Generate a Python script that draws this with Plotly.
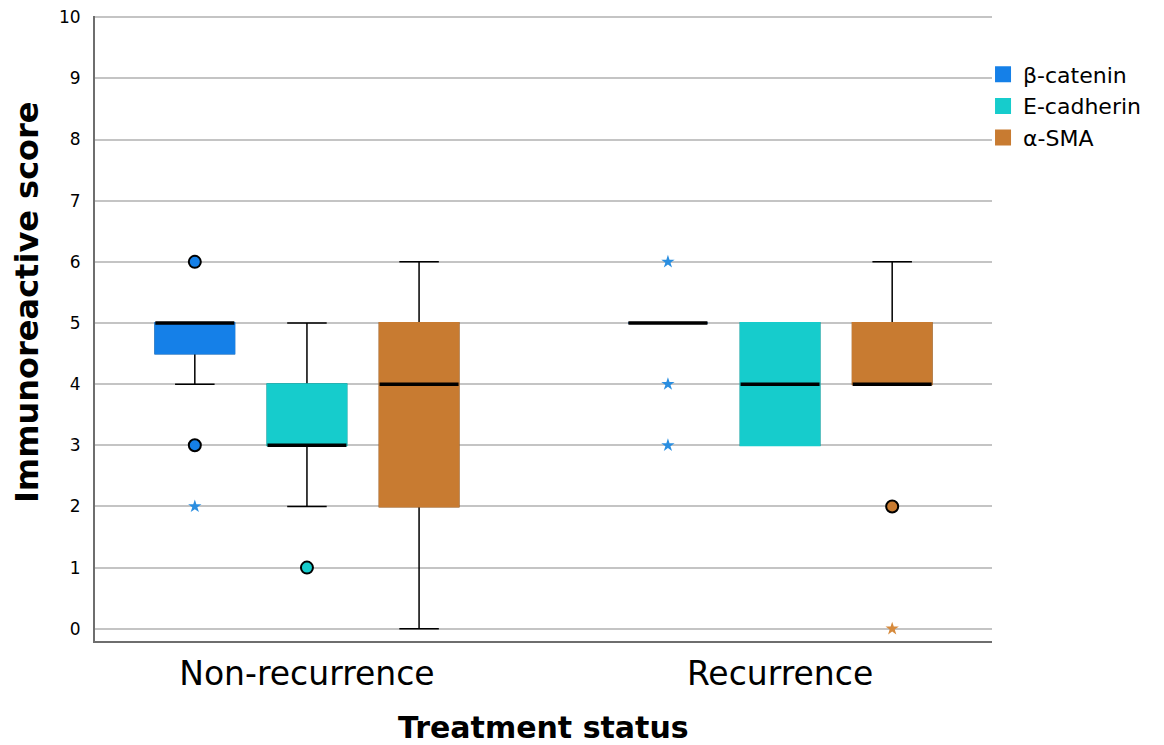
import plotly.graph_objects as go

# ---------------- data ----------------
groups = ["Non-recurrence", "Recurrence"]
series = ["β-catenin", "E-cadherin", "α-SMA"]
colors = ["#1580e8", "#16cccc", "#c87b31"]
star_colors = ["#2a8ee0", "#2a8ee0", "#d68a3c"]

# box statistics per series, per group (Non-recurrence, Recurrence)
q1 = {"β-catenin": [4.5, 5], "E-cadherin": [3, 3], "α-SMA": [2, 4]}
median = {"β-catenin": [5, 5], "E-cadherin": [3, 4], "α-SMA": [4, 4]}
q3 = {"β-catenin": [5, 5], "E-cadherin": [4, 5], "α-SMA": [5, 5]}
lowerfence = {"β-catenin": [4, 5], "E-cadherin": [2, 3], "α-SMA": [0, 4]}
upperfence = {"β-catenin": [5, 5], "E-cadherin": [5, 5], "α-SMA": [6, 6]}

# outliers (circles) and extremes (stars): lists of (group index, value)
outliers = {"β-catenin": [(0, 6), (0, 3)], "E-cadherin": [(0, 1)], "α-SMA": [(1, 2)]}
extremes = {"β-catenin": [(0, 2), (1, 6), (1, 4), (1, 3)], "E-cadherin": [], "α-SMA": [(1, 0)]}

y_ticks = list(range(0, 11))

# ---------------- layout params ----------------
offsets = [-0.237, 0.0, 0.237]
box_w = 0.167

fig = go.Figure()

for si, s in enumerate(series):
    col = colors[si]
    xs = [gi + offsets[si] for gi in range(len(groups))]
    # layer 1: whiskers (black) + box
    fig.add_trace(go.Box(
        x=xs, q1=q1[s], median=median[s], q3=q3[s],
        lowerfence=lowerfence[s], upperfence=upperfence[s],
        width=box_w, whiskerwidth=0.5, boxpoints=False,
        fillcolor=col, line=dict(color="black", width=1.5),
        showlegend=False, hoverinfo="skip"))
    # layer 2: cover the box outline with the fill colour
    fig.add_trace(go.Box(
        x=xs, q1=q1[s], median=q1[s], q3=q3[s],
        lowerfence=q1[s], upperfence=q3[s],
        width=box_w, whiskerwidth=0, boxpoints=False,
        fillcolor=col, line=dict(color=col, width=2),
        showlegend=False, hoverinfo="skip"))
    # layer 3: thick black median line
    fig.add_trace(go.Box(
        x=xs, q1=median[s], median=median[s], q3=median[s],
        lowerfence=median[s], upperfence=median[s],
        width=box_w, whiskerwidth=0, boxpoints=False,
        fillcolor="black", line=dict(color="black", width=3.5),
        showlegend=False, hoverinfo="skip"))

for si, s in enumerate(series):
    if outliers[s]:
        fig.add_trace(go.Scatter(
            x=[g + offsets[si] for g, v in outliers[s]],
            y=[v for g, v in outliers[s]],
            mode="markers", showlegend=False, hoverinfo="skip",
            marker=dict(symbol="circle", size=12, color=colors[si],
                        line=dict(color="black", width=2))))
    if extremes[s]:
        fig.add_trace(go.Scatter(
            x=[g + offsets[si] for g, v in extremes[s]],
            y=[v for g, v in extremes[s]],
            mode="markers", showlegend=False, hoverinfo="skip",
            marker=dict(symbol="star", size=10, color=star_colors[si],
                        line=dict(width=0))))

# legend entries
for si, s in enumerate(series):
    fig.add_trace(go.Scatter(
        x=[None], y=[None], mode="markers", name=s,
        marker=dict(symbol="square", size=20, color=colors[si])))

fig.update_layout(
    width=1156, height=737,
    margin=dict(l=87, r=172, t=8, b=104, autoexpand=False),
    paper_bgcolor="white", plot_bgcolor="white",
    font=dict(family="DejaVu Sans", color="black"),
    showlegend=True,
    legend=dict(x=0.99, y=0.94, xanchor="left", yanchor="top",
                font=dict(size=22, family="DejaVu Sans"),
                bgcolor="rgba(0,0,0,0)", itemsizing="trace",
                tracegroupgap=0),
    xaxis=dict(range=[-0.448, 1.448], tickmode="array", tickvals=[0, 1],
               ticktext=groups, tickfont=dict(size=33), showgrid=False,
               zeroline=False, showline=True, linecolor="#6e6e6e", linewidth=2,
               ticks="outside", ticklen=2, tickcolor="rgba(0,0,0,0)",
               automargin=False),
    yaxis=dict(range=[-0.2, 10.02], tickmode="array", tickvals=y_ticks,
               tickfont=dict(size=17), showgrid=True, gridcolor="#c4c4c4",
               gridwidth=1.5, zeroline=False, showline=True,
               linecolor="#6e6e6e", linewidth=2, ticklabeloverflow="allow",
               ticks="outside", ticklen=9, tickcolor="rgba(0,0,0,0)",
               automargin=False),
    annotations=[
        dict(text="<b>Immunoreactive score</b>", xref="paper", yref="paper",
             x=-0.076, y=0.542, textangle=-90, showarrow=False,
             font=dict(size=32, family="DejaVu Sans"), xanchor="center", yanchor="middle"),
        dict(text="<b>Treatment status</b>", xref="paper", yref="paper",
             x=0.5, y=-0.138, showarrow=False,
             font=dict(size=30, family="DejaVu Sans"), xanchor="center", yanchor="middle"),
    ],
)

fig.write_html("out.html")
